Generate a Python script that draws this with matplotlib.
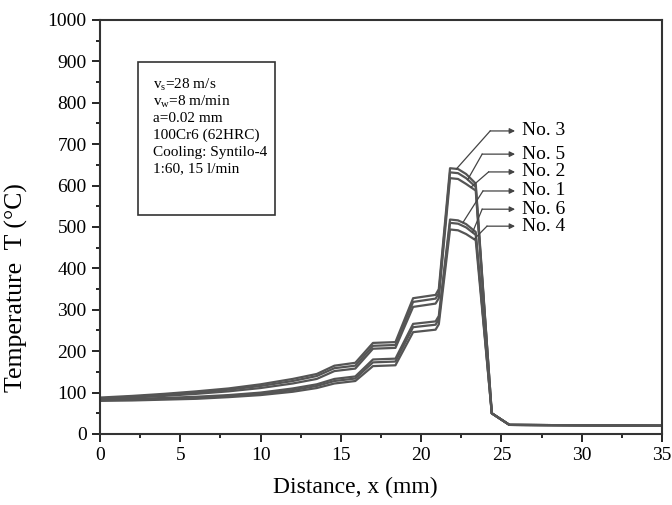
import numpy as np
import matplotlib.pyplot as plt
from matplotlib.patches import Rectangle

plt.rcParams['font.family'] = ['Liberation Serif', 'DejaVu Serif']
plt.rcParams['mathtext.fontset'] = 'custom'
plt.rcParams['mathtext.rm'] = 'Liberation Serif'
plt.rcParams['mathtext.it'] = 'Liberation Serif:italic'

# distance along the workpiece (mm)
x_mm = [0, 2, 4, 6, 8, 10, 12, 13.5, 14.6, 15.9, 17.0, 18.4, 19.5, 20.9, 21.1,
        21.8, 22.3, 22.8, 23.4, 24.4, 25.5, 35]

# temperature (C) for each measuring point
no3 = [88, 92, 97, 103, 110, 120, 133, 145, 165, 172, 220, 222, 328, 336, 350,
       642, 640, 628, 605, 50, 22, 20]
no5 = [86, 90, 95, 100, 107, 116, 128, 140, 159, 165, 213, 215, 319, 327, 340,
       632, 630, 618, 597, 50, 22, 20]
no2 = [84, 88, 92, 97, 103, 111, 122, 133, 152, 158, 206, 208, 307, 315, 328,
       618, 616, 604, 588, 50, 22, 20]
no1 = [84, 85, 87, 90, 94, 100, 110, 120, 133, 139, 180, 182, 266, 272, 285,
       518, 516, 507, 488, 50, 22, 20]
no6 = [82, 83, 85, 88, 92, 97, 106, 116, 128, 134, 173, 175, 258, 264, 277,
       510, 508, 499, 481, 50, 22, 20]
no4 = [80, 81, 83, 85, 89, 94, 102, 111, 122, 128, 164, 166, 246, 252, 265,
       494, 492, 483, 468, 50, 22, 20]

curves = [no3, no5, no2, no1, no6, no4]
labels = ['No. 3', 'No. 5', 'No. 2', 'No. 1', 'No. 6', 'No. 4']
label_T = [732, 676, 633, 587, 543, 502]
bend_x = [24.3, 23.8, 24.2, 23.85, 23.8, 24.1]
hit_x = [22.2, 22.9, 23.1, 22.6, 23.2, 23.3]

box_lines = [r'v$_\mathrm{s}$=28 m/s', r'v$_\mathrm{w}$=8 m/min', 'a=0.02 mm',
             '100Cr6 (62HRC)', 'Cooling: Syntilo-4', '1:60, 15 l/min']

fig = plt.figure(figsize=(6.72, 5.05), dpi=100)
ax = fig.add_axes([0.1488, 0.1406, 0.8363, 0.8198])

for c in curves:
    ax.plot(x_mm, c, color='#555555', linewidth=1.6)

# leader lines with arrows towards the labels
for c, lab, ty, bx, hx in zip(curves, labels, label_T, bend_x, hit_x):
    hy = np.interp(hx, x_mm, c)
    ax.plot([hx, bx], [hy, ty], color='#444444', linewidth=0.9)
    ax.annotate('', xy=(25.85, ty), xytext=(bx, ty),
                arrowprops=dict(arrowstyle='-|>', color='#444444', lw=0.9,
                                mutation_scale=8, shrinkA=0, shrinkB=0))
    ax.text(26.3, ty, lab, fontsize=14, va='center', ha='left')

# parameter box
ax.add_patch(Rectangle((0.068, 0.529), 0.243, 0.37, transform=ax.transAxes,
                       fill=False, edgecolor='#333333', linewidth=1.2))
for i, line in enumerate(box_lines):
    ax.text(0.094, 0.843 - i * 0.0405, line, transform=ax.transAxes,
            fontsize=11, va='center', ha='left')

ax.set_xlim(0, 35)
ax.set_ylim(0, 1000)
ax.set_xticks(np.arange(0, 36, 5))
ax.set_xticks(np.arange(0, 35.1, 2.5), minor=True)
ax.set_yticks(np.arange(0, 1001, 100))
ax.set_yticks(np.arange(0, 1001, 50), minor=True)
ax.tick_params(which='both', direction='out', labelsize=14, width=1.2)
ax.tick_params(which='major', length=6)
ax.tick_params(which='minor', length=3)
for s in ax.spines.values():
    s.set_linewidth(1.5)
    s.set_color('#333333')

ax.set_xlabel('Distance, x (mm)', fontsize=17)
ax.set_ylabel('Temperature  T (°C)', fontsize=18.5)
ax.xaxis.set_label_coords(0.454, -0.104)
ax.yaxis.set_label_coords(-0.128, 0.353)

fig.savefig('out.png', dpi=100)
